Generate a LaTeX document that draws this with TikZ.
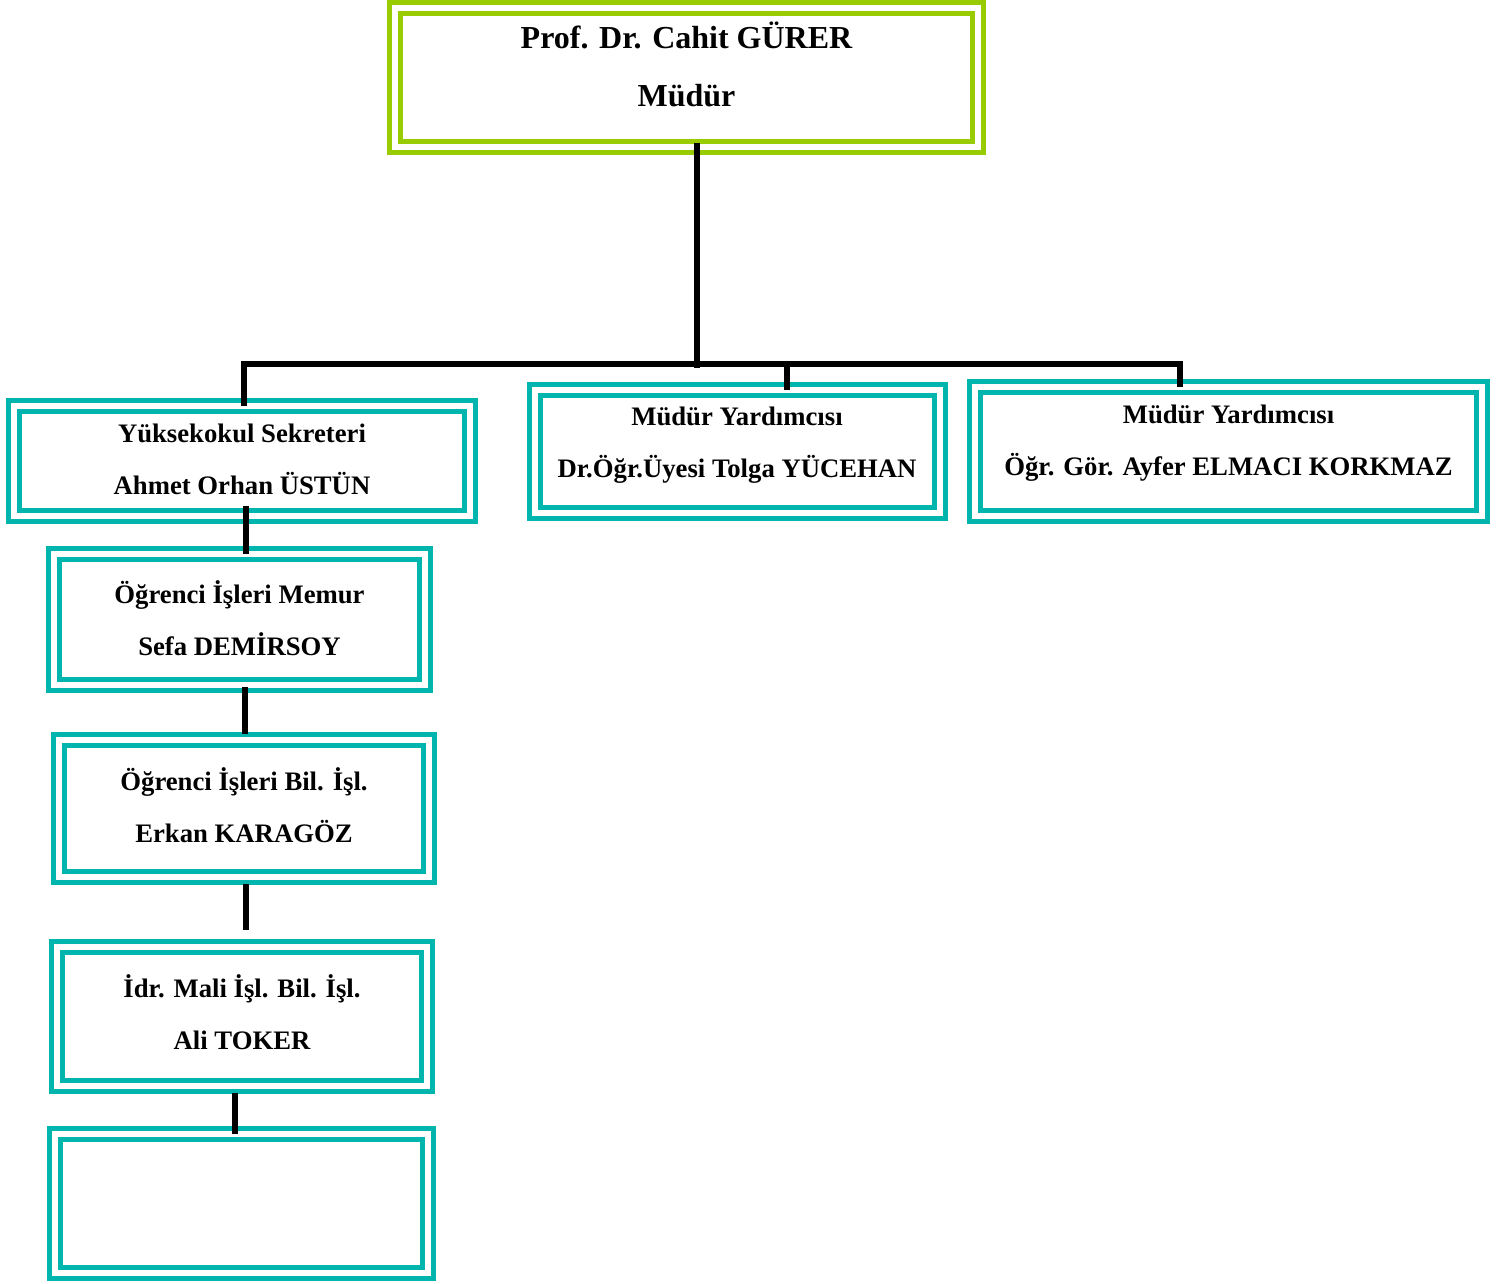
\documentclass[tikz,border=0pt]{standalone}
\usepackage{fontspec}
\setmainfont{Liberation Serif}
\usetikzlibrary{positioning}
\definecolor{boxteal}{RGB}{0,181,173}
\definecolor{boxgreen}{RGB}{153,204,0}

\begin{document}
\begin{tikzpicture}[x=1pt,y=1pt,
     staff/.style = {draw=boxteal, double, double distance=6, line width=5, rectangle, outer sep=0},
     head/.style = {staff, draw=boxgreen},
     txt/.style = {align=center, font=\bfseries\fontsize{26.7}{52}\selectfont},
     headtxt/.style = {align=center, font=\bfseries\fontsize{32}{58}\selectfont},
     link/.style = {draw, line width=6}
    ]
    \useasboundingbox (0,0) rectangle (1509,-1283);

    \node [head, minimum width=583, minimum height=139,
      label={[headtxt, yshift=13]center:{Prof. Dr. Cahit GÜRER\\Müdür}}] (mudur) at (686.5,-77.5) {};
    \node [staff, minimum width=456, minimum height=109.5,
      label={[txt, yshift=1]center:{Yüksekokul Sekreteri\\Ahmet Orhan ÜSTÜN}}] (secr) at (242,-460.75) {};
    \node [staff, minimum width=405, minimum height=123.5,
      label={[txt, yshift=6]center:{Müdür Yardımcısı\\Dr.Öğr.Üyesi Tolga YÜCEHAN}}] (yrd1) at (737,-451.25) {};
    \node [staff, minimum width=507, minimum height=129,
      label={[txt, yshift=8]center:{Müdür Yardımcısı\\Öğr. Gör. Ayfer ELMACI KORKMAZ}}] (yrd2) at (1228.5,-451.5) {};
    \node [staff, minimum width=371, minimum height=131.5, below=38 of secr, xshift=-2.5,
      label={[txt, yshift=1]center:{Öğrenci İşleri Memur\\Sefa DEMİRSOY}}] (memur) {};
    \node [staff, minimum width=370, minimum height=137, below=55 of memur, xshift=4.5,
      label={[txt, yshift=3]center:{Öğrenci İşleri Bil. İşl.\\Erkan KARAGÖZ}}] (bilisl) {};
    \node [staff, minimum width=370, minimum height=139, below=70 of bilisl, xshift=-2,
      label={[txt, yshift=4]center:{İdr. Mali İşl. Bil. İşl.\\Ali TOKER}}] (mali) {};
    \node [staff, minimum width=373, minimum height=139.5, below=47.5 of mali, xshift=-1] (empty) {};

    % tree
    \draw[link, shorten <=-4] ([xshift=10]mudur.south) -- ++(0,-221) coordinate (bus);
    \draw[link] ([xshift=1.5]secr.north) -- ++(0,42) -| ([xshift=-48.5]yrd2.north);
    \draw[link] ([xshift=49.5]yrd1.north) -- ++(0,25.5);

    % left column
    \draw[link, shorten <=-10] ([xshift=4]secr.south) -- ([xshift=6.5]memur.north);
    \draw[link, shorten <=2, shorten >=6] ([xshift=5]memur.south) -- ([xshift=0.5]bilisl.north);
    \draw[link, shorten <=7, shorten >=17] ([xshift=2]bilisl.south) -- ([xshift=4]mali.north);
    \draw[link, shorten <=7] ([xshift=-7.5]mali.south) -- ([xshift=-6.5]empty.north);
\end{tikzpicture}
\end{document}
